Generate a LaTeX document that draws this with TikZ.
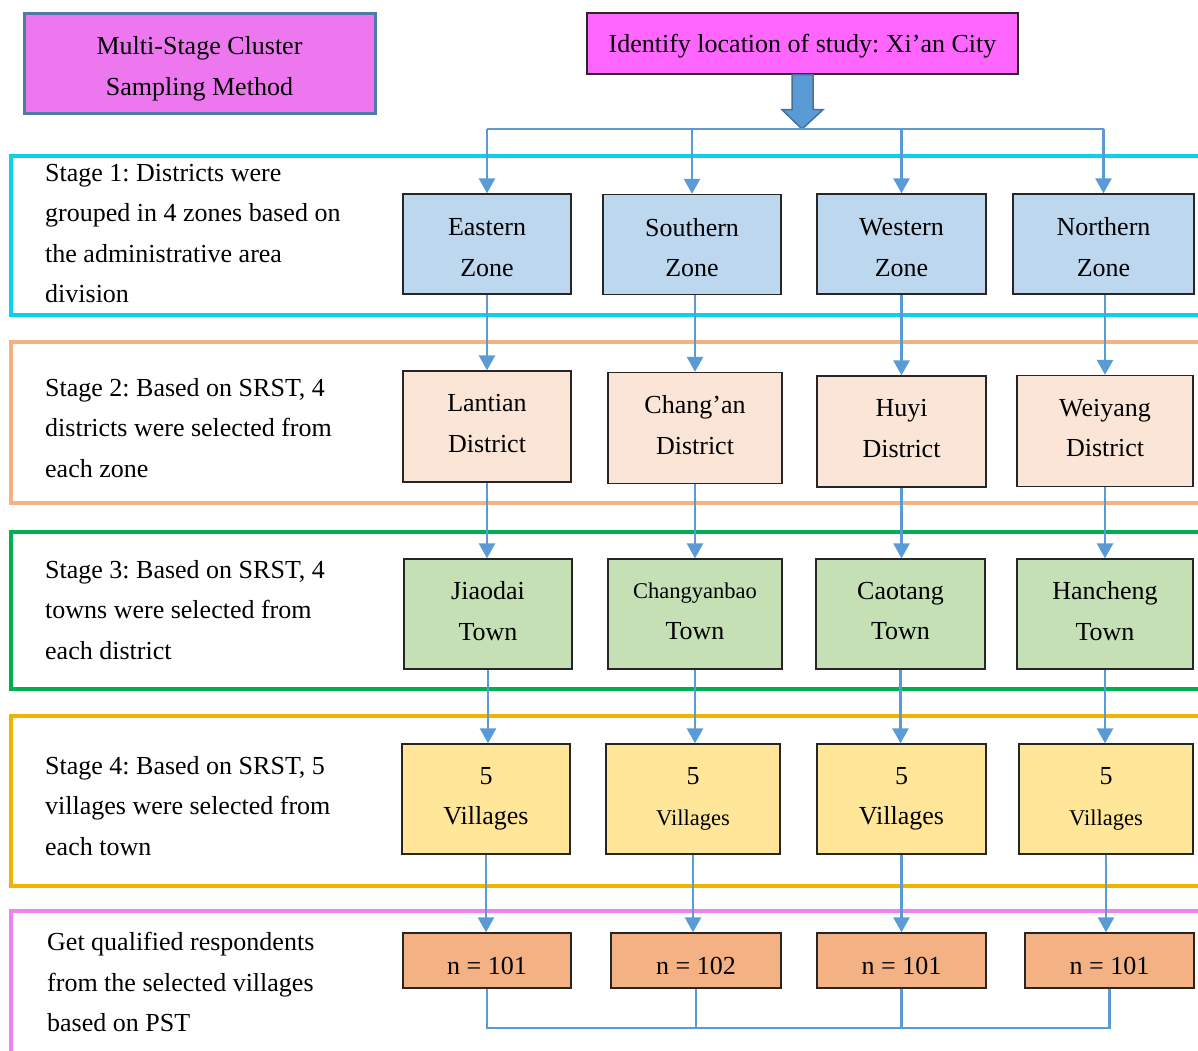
\documentclass[tikz,border=0pt]{standalone}
\usepackage{fontspec}
\setmainfont{Liberation Serif}
\frenchspacing
\usepackage{xcolor}
\definecolor{flow}{HTML}{5B9BD5}
\definecolor{flowdark}{HTML}{41719C}
\definecolor{methodfill}{HTML}{EC77EF}
\definecolor{methodline}{HTML}{4F7AA8}
\definecolor{cityfill}{HTML}{FF66FF}
\definecolor{zonefill}{HTML}{BDD7EE}
\definecolor{districtfill}{HTML}{FBE5D6}
\definecolor{townfill}{HTML}{C5E0B4}
\definecolor{villagefill}{HTML}{FFE699}
\definecolor{samplefill}{HTML}{F4B183}
\definecolor{stageone}{HTML}{0DCFEE}
\definecolor{stagetwo}{HTML}{F4B183}
\definecolor{stagethree}{HTML}{00B050}
\definecolor{stagefour}{HTML}{F0B400}
\definecolor{stagefive}{HTML}{EE82EE}
\usetikzlibrary{calc}
\usetikzlibrary{arrows.meta}
\newcommand{\topgap}[1]{\rule{0pt}{#1}}
\tikzstyle{box} = [rectangle, draw=black!85, line width=1.3pt, align=center, inner sep=2pt]
\tikzstyle{zone} = [box, fill=zonefill, minimum height=100pt]
\tikzstyle{district} = [box, fill=districtfill, minimum height=111pt, text depth=6pt]
\tikzstyle{town} = [box, fill=townfill, minimum height=110pt, text depth=6pt]
\tikzstyle{village} = [box, fill=villagefill, minimum height=110pt]
\tikzstyle{sample} = [box, fill=samplefill, minimum height=55pt, execute at begin node={\topgap{28pt}}]
\tikzstyle{stagetext} = [anchor=north west, align=left, inner sep=0pt]
\tikzstyle{frame} = [line width=3.5pt]
\tikzstyle{arr} = [draw=flow, line width=2.6pt, -{Triangle[width=16pt,length=15pt]}]
\tikzstyle{link} = [draw=flow, line width=2.4pt]

\begin{document}
\begin{tikzpicture}[x=1pt, y=-1pt, font=\fontsize{26}{40.5}\selectfont]
\useasboundingbox (0,0) rectangle (1198,1050);
\clip (0,0) rectangle (1198,1050);

% stage frames
\draw[frame, stageone] (1220,156) -- (11,156) -- (11,315) -- (1220,315);
\draw[frame, stagetwo] (1220,342) -- (11,342) -- (11,503) -- (1220,503);
\draw[frame, stagethree] (1220,532) -- (11,532) -- (11,689) -- (1220,689);
\draw[frame, stagefour] (1220,716) -- (11,716) -- (11,886) -- (1220,886);
\draw[frame, stagefive] (1220,911) -- (11,911) -- (11,1070);

\node (method) [rectangle, draw=methodline, line width=3pt, fill=methodfill, minimum width=351pt, minimum height=100pt, align=center] at (199.5,63) {\topgap{30pt}Multi-Stage Cluster\\Sampling Method};
\node (city) [box, fill=cityfill, minimum width=431pt, minimum height=61pt, text depth=0pt] at (802.5,43.5) {Identify location of study: Xi’an City};

\node (st1) [stagetext] at (45,164) {Stage 1: Districts were\\grouped in 4 zones based on\\the administrative area\\division};
\node (st2) [stagetext] at (45,378) {Stage 2: Based on SRST, 4\\districts were selected from\\each zone};
\node (st3) [stagetext] at (45,560) {Stage 3: Based on SRST, 4\\towns were selected from\\each district};
\node (st4) [stagetext] at (45,756) {Stage 4: Based on SRST, 5\\villages were selected from\\each town};
\node (st5) [stagetext] at (47,932) {Get qualified respondents\\from the selected villages\\based on PST};

\node (zE) [zone, minimum width=168pt] at (487,244) {\topgap{24pt}Eastern\\Zone};
\node (zS) [zone, minimum width=178pt] at (692,244.5) {\topgap{24pt}Southern\\Zone};
\node (zW) [zone, minimum width=169pt] at (901.5,244) {\topgap{24pt}Western\\Zone};
\node (zN) [zone, minimum width=181pt] at (1103.5,244) {\topgap{24pt}Northern\\Zone};

\node (dE) [district, minimum width=168pt] at (487,426.5) {Lantian\\District};
\node (dS) [district, minimum width=174pt] at (695,428) {Chang’an\\District};
\node (dW) [district, minimum width=169pt] at (901.5,431.5) {Huyi\\District};
\node (dN) [district, minimum width=176pt] at (1105,431) {Weiyang\\District};

\node (tE) [town, minimum width=168pt] at (488,614) {Jiaodai\\Town};
\node (tS) [town, minimum width=174pt] at (695,614) {{\fontsize{22.5}{40.5}\selectfont Changyanbao}\\Town};
\node (tW) [town, minimum width=169pt] at (900.5,614) {Caotang\\Town};
\node (tN) [town, minimum width=176pt] at (1105,614) {Hancheng\\Town};

\node (vE) [village, minimum width=168pt] at (486,799) {5\\Villages};
\node (vS) [village, minimum width=174pt] at (693,799) {5\\{\fontsize{22.5}{40.5}\selectfont Villages}};
\node (vW) [village, minimum width=169pt] at (901.5,799) {5\\Villages};
\node (vN) [village, minimum width=174pt] at (1106,799) {5\\{\fontsize{22.5}{40.5}\selectfont Villages}};

\node (nE) [sample, minimum width=168pt] at (487,960.5) {n = 101};
\node (nS) [sample, minimum width=170pt] at (696,960.5) {n = 102};
\node (nW) [sample, minimum width=169pt] at (901.5,960.5) {n = 101};
\node (nN) [sample, minimum width=169pt] at (1109.5,960.5) {n = 101};

% block arrow from the city box
\coordinate (bus) at (802,129);
\fill[flow, draw=flowdark, line width=1.5pt] ($(city.south)+(-10.5,0)$) -- ($(city.south)+(10.5,0)$) -- ($(city.south)+(10.5,35)$) -- ($(city.south)+(20.5,35)$) -- (bus) -- ($(city.south)+(-20.5,35)$) -- ($(city.south)+(-10.5,35)$) -- cycle;

\draw[draw=flow, line width=2.6pt] (zE.north |- bus) -- (zN.north |- bus);
\draw[arr] (zE.north |- bus) -- (zE.north);
\draw[arr] (zS.north |- bus) -- (zS.north);
\draw[arr] (zW.north |- bus) -- (zW.north);
\draw[arr] (zN.north |- bus) -- (zN.north);

\draw[arr] (zE.south) -- (zE.south |- dE.north);
\draw[arr] (dS.north |- zS.south) -- (dS.north);
\draw[arr] (dW.north |- zW.south) -- (dW.north);
\draw[arr] (dN.north |- zN.south) -- (dN.north);

\draw[arr] (dE.south) -- (dE.south |- tE.north);
\draw[arr] (dS.south) -- (dS.south |- tS.north);
\draw[arr] (dW.south) -- (dW.south |- tW.north);
\draw[arr] (dN.south) -- (dN.south |- tN.north);

\draw[arr] (tE.south) -- (tE.south |- vE.north);
\draw[arr] (tS.south) -- (tS.south |- vS.north);
\draw[arr] (tW.south) -- (tW.south |- vW.north);
\draw[arr] (tN.south) -- (tN.south |- vN.north);

\draw[arr] (vE.south) -- (vE.south |- nE.north);
\draw[arr] (vS.south) -- (vS.south |- nS.north);
\draw[arr] (vW.south) -- (vW.south |- nW.north);
\draw[arr] (vN.south) -- (vN.south |- nN.north);

% joining line under the samples
\coordinate (base) at (800,1028);
\draw[link] (nE.south) -- (nE.south |- base) -- (nN.south |- base) -- (nN.south);
\draw[link] (nS.south) -- (nS.south |- base);
\draw[link] (nW.south) -- (nW.south |- base);

\end{tikzpicture}
\end{document}
